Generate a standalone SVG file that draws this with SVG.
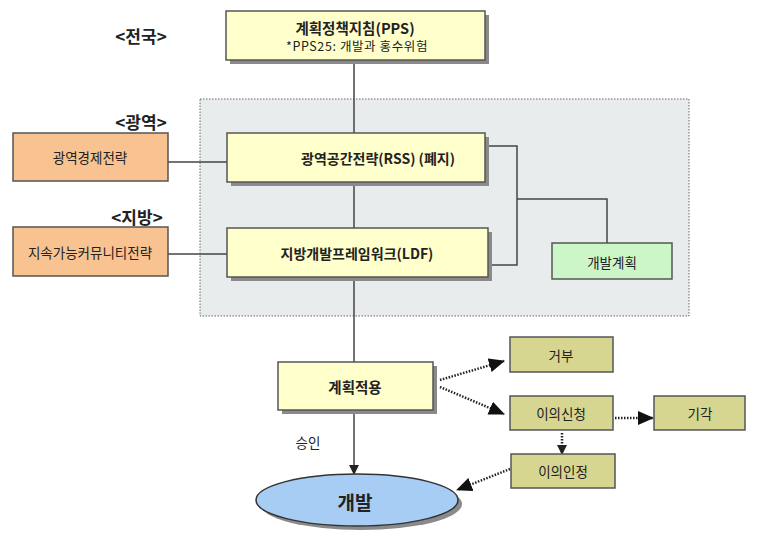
<svg xmlns="http://www.w3.org/2000/svg" width="757" height="541" viewBox="0 0 757 541">
<defs>
<style>
text{font-family:"Noto Sans CJK KR","Noto Sans",sans-serif;fill:#222;text-anchor:middle;dominant-baseline:central}
.b{font-weight:bold}
.sh{fill:#8a8a8a}
.y{fill:#ffffcc;stroke:#555;stroke-width:1.5}
.o{fill:#f9c391;stroke:#555;stroke-width:1.5}
.g{fill:#ccf5c8;stroke:#555;stroke-width:1.5}
.ol{fill:#d6d690;stroke:#555;stroke-width:1.5}
.ln{fill:none;stroke:#444;stroke-width:1.5}
.dt{fill:none;stroke:#222;stroke-width:2.5;stroke-dasharray:1.5 1.5}
</style>
<marker id="ah" markerWidth="10" markerHeight="10" refX="9" refY="5" orient="auto" markerUnits="userSpaceOnUse">
<path d="M0,0 L10,5 L0,10 Z" fill="#222"/>
</marker>
<marker id="ah2" markerWidth="16" markerHeight="14" refX="15" refY="7" orient="auto" markerUnits="userSpaceOnUse">
<path d="M0,0 L16,7 L0,14 Z" fill="#111"/>
</marker>
</defs>
<rect width="757" height="541" fill="#fff"/>
<rect x="200" y="99" width="489" height="217" fill="#e9ecec" stroke="#666" stroke-width="1" stroke-dasharray="1.5 1.5"/>
<g id="labels">
<text x="141" y="35" class="b" font-size="17">&lt;전국&gt;</text>
<text x="141" y="121" class="b" font-size="17">&lt;광역&gt;</text>
<text x="137" y="216" class="b" font-size="17">&lt;지방&gt;</text>
<text x="308" y="442" font-size="13.5">승인</text>
</g>
<g id="connectors">
<line class="ln" x1="354" y1="60" x2="354" y2="362"/>
<line class="ln" x1="354" y1="410" x2="354" y2="474" marker-end="url(#ah)"/>
<line class="ln" x1="168" y1="162" x2="227" y2="162"/>
<line class="ln" x1="168" y1="254" x2="227" y2="254"/>
<polyline class="ln" points="485,146 517,146 517,265 488,265"/>
<polyline class="ln" points="517,199 607,199 607,243"/>
<line class="dt" x1="440" y1="380" x2="504" y2="361" marker-end="url(#ah2)"/>
<line class="dt" x1="440" y1="387" x2="504" y2="414" marker-end="url(#ah2)"/>
<line class="dt" x1="615" y1="418" x2="653" y2="418" marker-end="url(#ah2)"/>
<line class="dt" x1="562" y1="433" x2="562" y2="454" marker-end="url(#ah)"/>
<line class="dt" x1="510" y1="469" x2="457" y2="490" marker-end="url(#ah2)"/>
</g>
<g id="pps">
<rect class="sh" x="230" y="15" width="259" height="49"/>
<rect class="y" x="226" y="11" width="259" height="49"/>
<text x="355" y="27" class="b" font-size="14.5">계획정책지침(PPS)</text>
<text x="357" y="45" font-size="12.5" letter-spacing="0.6">*PPS25:  개발과  홍수위험</text>
</g>
<g id="regional-econ">
<rect class="o" x="13" y="133" width="155" height="48"/>
<text x="90" y="157" font-size="13.5">광역경제전략</text>
</g>
<g id="rss">
<rect class="sh" x="231" y="137" width="258" height="49"/>
<rect class="y" x="227" y="133" width="258" height="49"/>
<text x="378" y="158" class="b" font-size="14">광역공간전략(RSS) (폐지)</text>
</g>
<g id="sustainable">
<rect class="o" x="13" y="227" width="155" height="49"/>
<text x="90" y="252" font-size="13.5">지속가능커뮤니티전략</text>
</g>
<g id="ldf">
<rect class="sh" x="231" y="232" width="261" height="49"/>
<rect class="y" x="227" y="228" width="261" height="49"/>
<text x="357" y="253" class="b" font-size="14">지방개발프레임워크(LDF)</text>
</g>
<g id="devplan">
<rect class="g" x="552" y="243" width="120" height="36"/>
<text x="612" y="262" font-size="13.5">개발계획</text>
</g>
<g id="apply">
<rect class="sh" x="282" y="366" width="155" height="48"/>
<rect class="y" x="278" y="362" width="155" height="48"/>
<text x="355" y="386" class="b" font-size="14.5">계획적용</text>
</g>
<g id="reject">
<rect class="ol" x="510" y="337" width="103" height="35"/>
<text x="561" y="355" font-size="13.5">거부</text>
</g>
<g id="objection">
<rect class="ol" x="510" y="396" width="103" height="34"/>
<text x="561" y="413" font-size="13.5">이의신청</text>
</g>
<g id="dismiss">
<rect class="ol" x="654" y="396" width="91" height="34"/>
<text x="700" y="413" font-size="13.5">기각</text>
</g>
<g id="accept">
<rect class="ol" x="511" y="454" width="104" height="34"/>
<text x="563" y="471" font-size="13.5">이의인정</text>
</g>
<g id="dev">
<ellipse cx="361" cy="504" rx="101" ry="26" fill="#8a8a8a"/>
<ellipse cx="357" cy="500" rx="101" ry="26" fill="#a8cdf5" stroke="#333" stroke-width="1.5"/>
<text x="355" y="501" class="b" font-size="19">개발</text>
</g>
</svg>
